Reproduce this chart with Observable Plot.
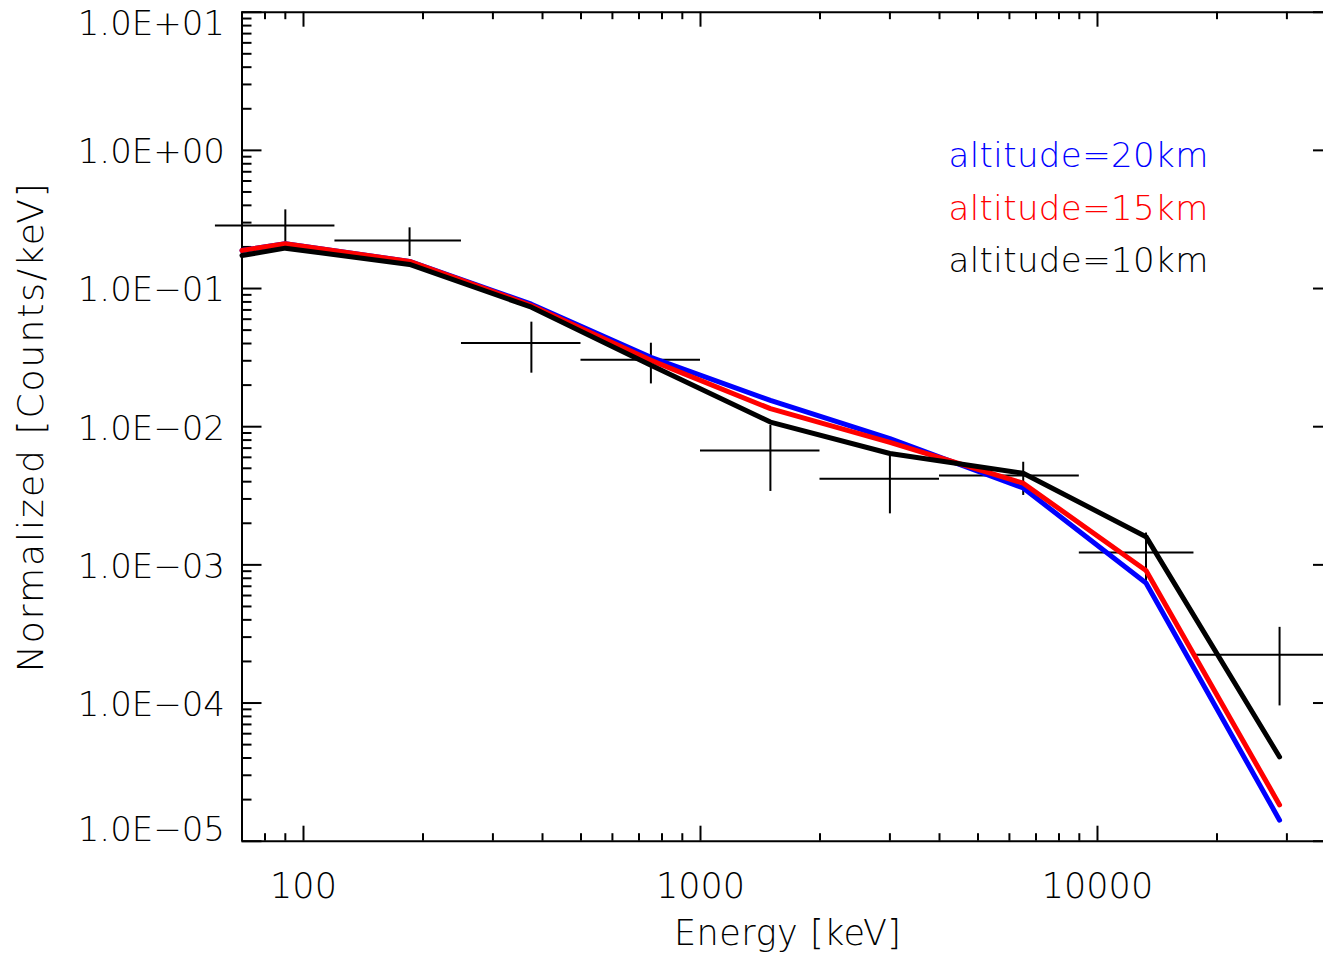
<!DOCTYPE html>
<html><head><meta charset="utf-8">
<script src="https://cdn.jsdelivr.net/npm/d3@7"></script>
<script src="https://cdn.jsdelivr.net/npm/@observablehq/plot@0.6"></script>
<style>html,body{margin:0;padding:0;background:#fff;overflow:hidden}</style>
</head><body><div id="chart"></div>
<script>
// ---- data ----
const binLow      = [60, 120, 250, 500, 1000, 2000, 4000, 9000, 17500];
const binHigh     = [120, 250, 500, 1000, 2000, 4000, 9000, 17500, 40000];
const binCenter   = [90, 185, 375, 750, 1500, 3000, 6500, 13250, 28750];
const measured    = [0.286, 0.223, 0.0404, 0.0305, 0.00673, 0.0042, 0.00443, 0.00123, 0.000224];
const measuredLow = [0.2165, 0.1706, 0.0244, 0.0204, 0.0034, 0.00234, 0.00318, 0.00076, 0.0000953];
const measuredHigh= [0.371, 0.275, 0.0571, 0.0402, 0.0102, 0.00612, 0.00553, 0.0017, 0.000353];

const modelEnergy = [70, 90, 185, 375, 750, 1500, 3000, 6500, 13250, 28750];
const alt20 = [0.1885, 0.211, 0.157, 0.077, 0.0318, 0.0155, 0.0082, 0.0036, 0.00074, 0.0000142];
const alt15 = [0.1885, 0.211, 0.157, 0.0754, 0.0302, 0.0135, 0.0077, 0.0039, 0.00091, 0.0000183];
const alt10 = [0.1734, 0.196, 0.1493, 0.0733, 0.0278, 0.0108, 0.0064, 0.0046, 0.0016, 0.0000407];

const seriesNames = ["altitude=20km", "altitude=15km", "altitude=10km"];
const seriesColors = ["#0000ff", "#ff0000", "#000000"];
const seriesValues = [alt20, alt15, alt10];

const xDomain = [70, 40000];
const yDomain = [1e-5, 10];
const xMajor = [100, 1000, 10000];
const yMajor = [1e-5, 1e-4, 1e-3, 1e-2, 1e-1, 1, 10];
const xTitle = "Energy [keV]";
const yTitle = "Normalized [Counts/keV]";

// ---- layout ----
const W = 1323, H = 956;
const mL = 241.5, mT = 11.7, mB = H - 840.7, mR = 0;
const plotW = W - mL - mR, plotH = H - mT - mB;
const xRangeEnd = 1336;
const font = "'DejaVu Sans', sans-serif";
const fw = 200;

const minorOf = (lo, hi) => {
  const out = [];
  for (let e = Math.floor(Math.log10(lo)); e <= Math.ceil(Math.log10(hi)); e++)
    for (let k = 2; k <= 9; k++) { const v = k * Math.pow(10, e); if (v >= lo * 0.999 && v <= hi * 1.001) out.push(v); }
  return out;
};
const xMinor = minorOf(xDomain[0], xDomain[1]);
const yMinor = minorOf(yDomain[0], yDomain[1]);

const fmtExp = v => { const e = Math.round(Math.log10(v)); return "1.0E" + (e < 0 ? "\u2212" : "+") + String(Math.abs(e)).padStart(2, "0"); };

const crosses = binCenter.map((c, i) => ({c, lo: binLow[i], hi: binHigh[i], v: measured[i], vlo: measuredLow[i], vhi: measuredHigh[i]}));

const ax = {stroke: "#000", strokeWidth: 2};
const marks = [];

// frame (left, top, bottom)
marks.push(Plot.ruleX([xDomain[0]], {x: d => d, ...ax}));
marks.push(Plot.ruleY(yDomain, {y: d => d, ...ax}));

// x ticks bottom & top
marks.push(Plot.tickX(xMajor, {x: d => d, insetTop: plotH - 15, ...ax}));
marks.push(Plot.tickX(xMinor, {x: d => d, insetTop: plotH - 7.5, ...ax}));
marks.push(Plot.tickX(xMajor, {x: d => d, insetBottom: plotH - 15, ...ax}));
marks.push(Plot.tickX(xMinor, {x: d => d, insetBottom: plotH - 7.5, ...ax}));
// y ticks left & right
marks.push(Plot.tickY(yMajor, {y: d => d, insetRight: plotW - 20, ...ax}));
marks.push(Plot.tickY(yMinor, {y: d => d, insetRight: plotW - 10, ...ax}));
marks.push(Plot.tickY(yMajor, {y: d => d, insetLeft: plotW - 10, ...ax}));

// tick labels
const tl = {fontFamily: font, fontWeight: fw, fontSize: 34, fill: "#000", lineAnchor: "middle"};
marks.push(Plot.text(xMajor, {x: d => d, text: d => String(d), frameAnchor: "bottom", dy: 46, ...tl, fontSize: 35}));
marks.push(Plot.text(yMajor.filter((d, i) => i > 0 && i < yMajor.length - 1), {y: d => d, text: fmtExp, frameAnchor: "left", textAnchor: "end", dx: -17, dy: 2, ...tl}));
marks.push(Plot.text([yMajor[yMajor.length - 1]], {y: d => d, text: fmtExp, frameAnchor: "left", textAnchor: "end", dx: -17, dy: 12, ...tl}));
marks.push(Plot.text([yMajor[0]], {y: d => d, text: fmtExp, frameAnchor: "left", textAnchor: "end", dx: -17, dy: -11, ...tl}));

// axis titles
marks.push(Plot.text([xTitle], {text: d => d, frameAnchor: "bottom", textAnchor: "middle", dx: 5, dy: 93, ...tl, fontSize: 35}));
marks.push(Plot.text([yTitle], {text: d => d, frameAnchor: "left", textAnchor: "middle", rotate: -90, dx: 31 - mL, ...tl, fontSize: 36}));

// measured crosses
const cr = {stroke: "#000", strokeWidth: 2};
marks.push(Plot.ruleY(crosses, {y: "v", x1: "lo", x2: "hi", ...cr}));
marks.push(Plot.ruleX(crosses, {x: "c", y1: "vlo", y2: "vhi", ...cr}));

// model lines
seriesNames.forEach((name, k) => {
  const data = modelEnergy.map((e, i) => ({e, v: seriesValues[k][i]}));
  marks.push(Plot.line(data, {x: "e", y: "v", stroke: seriesColors[k], strokeWidth: 5, strokeLinejoin: "miter"}));
});

// legend
const legendDy = [144, 197.4, 249.1];
seriesNames.forEach((name, k) => {
  marks.push(Plot.text([name], {text: d => d, frameAnchor: "top-left", textAnchor: "start", dx: 948 - mL, dy: legendDy[k], ...tl, fill: seriesColors[k]}));
});

const chart = Plot.plot({
  width: W, height: H,
  marginLeft: mL, marginRight: mR, marginTop: mT, marginBottom: mB,
  x: {type: "log", domain: xDomain, range: [mL, xRangeEnd], axis: null},
  y: {type: "log", domain: yDomain, axis: null},
  style: {background: "#fff"},
  marks
});
// letter spacing (style only)
d3.select(chart).selectAll("text").each(function() {
  const t = this.textContent;
  if (t === yTitle) this.setAttribute("letter-spacing", "2");
  else if (seriesNames.includes(t)) this.setAttribute("letter-spacing", "0.4");
  else if (t === xTitle) this.setAttribute("letter-spacing", "0.5");
});
document.getElementById("chart").appendChild(chart);
</script></body></html>
